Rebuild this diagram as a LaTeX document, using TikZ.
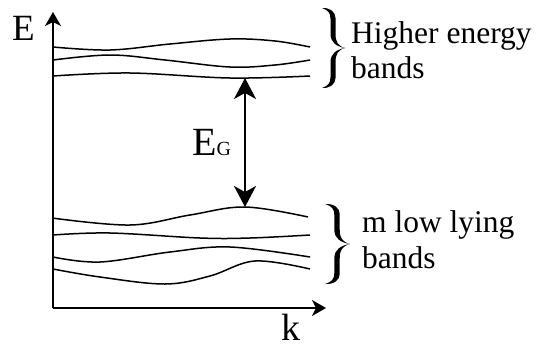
\documentclass[tikz,border=0pt]{standalone}
\usepackage{fontspec}
\setmainfont{Liberation Serif}
\usetikzlibrary{arrows.meta}
\begin{document}
\begin{tikzpicture}[x=1pt,y=-1pt,
  band/.style={line width=1.5pt, line join=round},
  axis/.style={line width=1.8pt, -{Stealth[length=14pt,width=16pt,inset=4pt]}},
  gap/.style={line width=1.8pt, {Stealth[length=21pt,width=22pt,inset=6pt]}-{Stealth[length=21pt,width=22pt,inset=6pt]}},
  lbl/.style={anchor=base west, inner sep=0pt, font=\fontsize{31.5}{35}\selectfont},
  curly/.pic={
    \fill (0,0) .. controls (-7,-2) and (-9.5,-6) .. (-9.5,-14) -- (-9.5,-30)
      .. controls (-9.5,-36) and (-15,-40.5) .. (-23,-40)
      .. controls (-17,-38) and (-14.5,-35) .. (-14.5,-29) -- (-14.5,-14)
      .. controls (-14.5,-6) and (-9,-1.5) .. (0,0) -- cycle;
    \begin{scope}[yscale=-1]
    \fill (0,0) .. controls (-7,-2) and (-9.5,-6) .. (-9.5,-14) -- (-9.5,-30)
      .. controls (-9.5,-36) and (-15,-40.5) .. (-23,-40)
      .. controls (-17,-38) and (-14.5,-35) .. (-14.5,-29) -- (-14.5,-14)
      .. controls (-14.5,-6) and (-9,-1.5) .. (0,0) -- cycle;
    \end{scope}
  }]
\useasboundingbox (0,0) rectangle (540,348);
% axes
\coordinate (O) at (53,308);
\coordinate (Etop) at (53,12);
\coordinate (Kend) at (326,308);
\draw[axis] (O) -- (Etop);
\draw[axis] (O) -- (Kend);
\node[anchor=base west, inner sep=0pt, font=\fontsize{37}{37}\selectfont] (E) at (12,40) {E};
\node[anchor=base west, inner sep=0pt, font=\fontsize{38}{38}\selectfont] (k) at (281,340) {k};
% upper bands
\draw[band] plot[smooth, tension=0.6] coordinates {(53,47) (110,50) (170,44) (230,39) (275,41) (310,47)};
\draw[band] plot[smooth, tension=0.6] coordinates {(53,60) (110,55) (165,60) (230,67) (275,65) (310,60)};
\draw[band] plot[smooth, tension=0.6] coordinates {(53,76) (130,73) (230,78) (310,76)};
% lower bands
\draw[band] plot[smooth, tension=0.6] coordinates {(52,218) (130,225) (190,215) (245,207) (308,217)};
\draw[band] plot[smooth, tension=0.6] coordinates {(53,235) (110,233) (200,238) (250,238) (310,235)};
\draw[band] plot[smooth, tension=0.6] coordinates {(53,257) (100,262) (170,252) (230,247) (310,257)};
\draw[band] plot[smooth, tension=0.6] coordinates {(53,269) (100,277) (165,284) (210,276) (255,261) (310,269)};
% gap arrow
\coordinate (Ctop) at (245,78);
\coordinate (Vbot) at (245,207);
\draw[gap] (Ctop) -- (Vbot);
\node[anchor=base west, inner sep=0pt] (EG) at (192,155) {\fontsize{40}{40}\selectfont E\fontsize{20}{20}\selectfont G};
% braces
\pic at (345,48) {curly};
\pic[xscale=1.08] at (350,244) {curly};
% labels
\node[lbl] (h1) at (351,43) {Higher energy};
\node[lbl] (h2) at (351,78) {bands};
\node[lbl] (l1) at (362,232) {m low lying};
\node[lbl] (l2) at (362,268) {bands};
\end{tikzpicture}
\end{document}
